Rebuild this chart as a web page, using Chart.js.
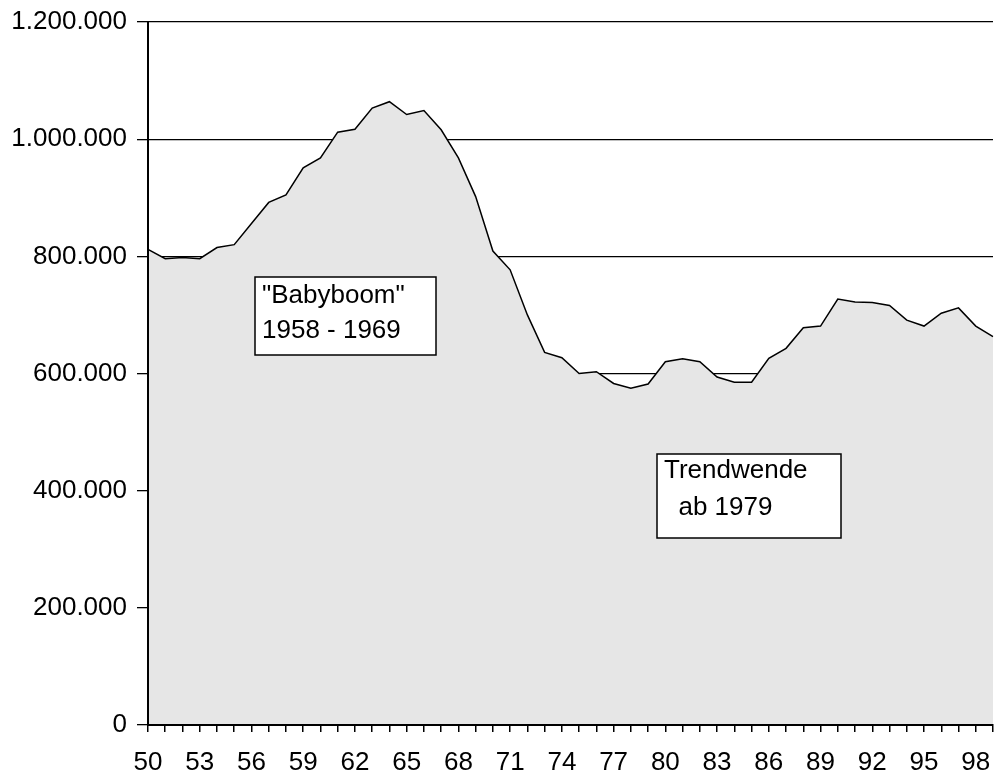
<!DOCTYPE html>
<html>
<head>
<meta charset="utf-8">
<script src="https://cdn.jsdelivr.net/npm/chart.js@4/dist/chart.umd.min.js"></script>
<style>
  html, body { margin: 0; padding: 0; background: #fff; }
  #wrap { width: 997px; height: 774px; position: relative; }
</style>
</head>
<body>
<div id="wrap"><canvas id="c"></canvas></div>
<script>
// ---- data ----
const years = ['50','51','52','53','54','55','56','57','58','59',
               '60','61','62','63','64','65','66','67','68','69',
               '70','71','72','73','74','75','76','77','78','79',
               '80','81','82','83','84','85','86','87','88','89',
               '90','91','92','93','94','95','96','97','98','99'];
const births = [812000, 796000, 798000, 796000, 815000, 820000, 856000, 892000, 905000, 951000,
                968000, 1012000, 1017000, 1053000, 1064000, 1042000, 1049000, 1016000, 968000, 902000,
                809000, 777000, 700000, 636000, 627000, 600000, 603000, 583000, 575000, 582000,
                620000, 625000, 620000, 594000, 585000, 585000, 626000, 643000, 678000, 681000,
                727000, 722000, 721000, 716000, 691000, 681000, 703000, 712000, 681000, 663000];
const yTicks = [0, 200000, 400000, 600000, 800000, 1000000, 1200000];
const labelEvery = 3;
const noteBabyboom = ['"Babyboom"', '1958 - 1969'];
const noteTrend = ['Trendwende', '  ab 1979'];

const FONT = '"Liberation Sans", Arial, Helvetica, sans-serif';

function fmtDE(v) {
  return String(Math.round(v)).replace(/\B(?=(\d{3})+(?!\d))/g, '.');
}

// annotation boxes anchored in data space (index, value)
const notes = [
  { lines: noteBabyboom, xi: 6.2, yv: 765000, w: 181, h: 78, padX: 7, base1: 26, gap: 35 },
  { lines: noteTrend,    xi: 29.5, yv: 462500, w: 184, h: 84, padX: 7, base1: 24, gap: 37 }
];

const notesPlugin = {
  id: 'notes',
  afterDatasetsDraw(chart) {
    const ctx = chart.ctx;
    const xs = chart.scales.x, ys = chart.scales.y;
    ctx.save();
    notes.forEach(n => {
      const x0 = Math.round(xs.getPixelForValue(n.xi));
      const y0 = Math.round(ys.getPixelForValue(n.yv));
      ctx.fillStyle = '#ffffff';
      ctx.fillRect(x0, y0, n.w, n.h);
      ctx.strokeStyle = '#000';
      ctx.lineWidth = 1.5;
      ctx.strokeRect(x0, y0, n.w, n.h);
      ctx.fillStyle = '#000';
      ctx.font = '26px ' + FONT;
      ctx.textBaseline = 'alphabetic';
      ctx.textAlign = 'left';
      n.lines.forEach((t, i) => {
        ctx.fillText(t, x0 + n.padX, y0 + n.base1 + i * n.gap);
      });
    });
    ctx.restore();
  }
};

new Chart(document.getElementById('c'), {
  type: 'line',
  data: {
    labels: years,
    datasets: [{
      data: births,
      borderColor: '#000',
      borderWidth: 1.5,
      backgroundColor: '#e6e6e6',
      fill: 'origin',
      pointRadius: 0,
      tension: 0
    }]
  },
  options: {
    responsive: true,
    maintainAspectRatio: false,
    animation: false,
    layout: { padding: { top: 22, right: 4, left: 0, bottom: 0 } },
    plugins: { legend: { display: false }, tooltip: { enabled: false } },
    scales: {
      x: {
        type: 'category',
        offset: false,
        afterFit(s) { s.height = 49; s.paddingLeft = 0; s.paddingRight = 0; },
        grid: { drawOnChartArea: false, drawTicks: true, tickLength: 7, color: '#000', lineWidth: 1.5 },
        border: { display: true, color: '#000', width: 2, z: 1 },
        ticks: {
          autoSkip: false,
          maxRotation: 0,
          minRotation: 0,
          padding: 15,
          color: '#000',
          font: { family: FONT, size: 26 },
          callback(v, i) { return i % labelEvery === 0 ? years[i] : ''; }
        }
      },
      y: {
        min: 0,
        max: 1200000,
        afterFit(s) { s.width = 148; s.paddingTop = 0; s.paddingBottom = 0; },
        afterBuildTicks(s) { s.ticks = yTicks.map(v => ({ value: v })); },
        grid: { drawOnChartArea: true, drawTicks: true, tickLength: 11, color: '#000', lineWidth: 1.3 },
        border: { display: true, color: '#000', width: 2, z: 1 },
        ticks: {
          padding: 10,
          color: '#000',
          font: { family: FONT, size: 26 },
          callback(v) { return fmtDE(v); }
        }
      }
    }
  },
  plugins: [notesPlugin]
});
</script>
</body>
</html>
